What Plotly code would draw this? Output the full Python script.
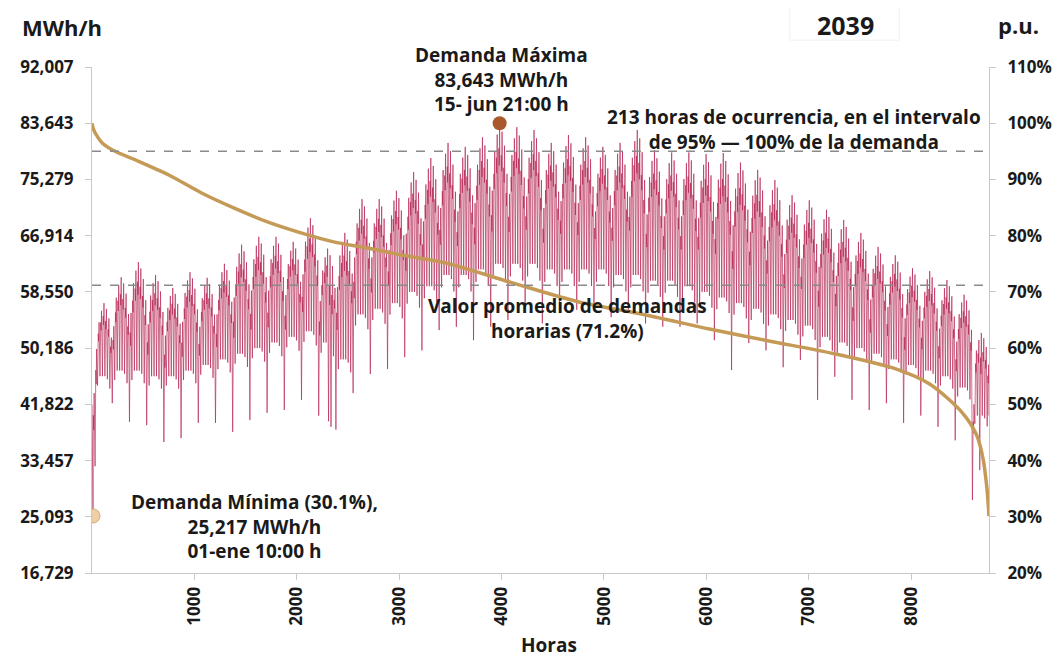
import plotly.graph_objects as go

# ---------------- data ----------------
PEAK_MWH = 83643  # 1.0 p.u.

# weekly values in % of peak (weeks start on Sunday 2 Jan; 52 weeks)
week_peak = [68, 72.6, 75.3, 73, 70.7, 73.5, 72.5, 75, 78.4, 79.8,
             79.8, 78.9, 83.1, 77.7, 80.5, 86.5, 86.5, 88, 91.3, 93.8,
             96.5, 95.8, 97.5, 100, 99.3, 98.8, 96.5, 97.9, 97.5, 95.8,
             96.5, 98.8, 95.2, 94.8, 94.8, 94.5, 94.7, 93, 91.7, 89.9,
             87.2, 86.3, 84.6, 82.8, 80.5, 78, 76.5, 74.2, 73.7, 72.1,
             69.5, 62.7]
week_trough = [55, 56, 56, 55, 55, 56, 57, 58, 59, 60,
               61, 62, 63, 61, 58, 66, 67, 68, 70, 71,
               73, 73, 74, 75, 75, 75, 74, 74, 74, 74,
               73, 73, 72, 72, 71, 70, 69, 68, 67, 66,
               65, 64, 62, 61, 60, 59, 58, 57, 56, 55,
               53, 48]
week_dip = [39, 50.2, 46.9, 46.3, 43.3, 44, 46.7, 46.7, 45.1, 47.2,
            48.5, 49, 50.8, 48, 45.5, 52, 55.4, 56.3, 58.4, 59.6,
            63.2, 63.8, 61.4, 63.8, 65, 67.4, 64.4, 66.8, 66.8, 68,
            65.5, 66.8, 64.4, 63.8, 63.8, 64.4, 61.4, 56.1, 60.9, 59.6,
            56.6, 57.9, 50.8, 54.9, 50.8, 49, 50.2, 46.7, 48, 46,
            43.6, 33]
# holidays (day of year -> value, %)
special_low = {0: 30.1, 96: 47.0, 97: 46.0, 361: 38.3}
special_high = {0: 52.0, 358: 50.0}
start_value = 50.0
end_value = 48.0
# day-of-week shape (Sunday..Saturday)
dow_peak = [0.88, 0.95, 0.98, 1.0, 0.985, 0.96, 0.91]
dow_trough = [1.0, 0.97, 1.0, 1.0, 1.0, 0.99, 0.96]
# intra-day shape: (hour, share of the trough->peak swing)
day_hours = [6, 13, 17, 21]
day_share = [0.0, 0.82, 0.70, 1.0]

# load-duration curve (hours, % of peak)
dur_hours = [0, 10, 30, 100, 225, 420, 750, 1070, 1390, 1720, 2040, 2360,
             2690, 3010, 3466, 4107, 4757, 5408, 6030, 6600, 7250, 7850,
             8180, 8500, 8640, 8700, 8740, 8760]
dur_pct = [100, 99.2, 98.3, 96.5, 95, 93.5, 90.8, 87.6, 84.9, 82.4, 80.5,
           78.9, 77.8, 76.6, 75.1, 71.6, 68.2, 65.9, 63.4, 61.3, 59.0,
           56.3, 53.6, 48.5, 44.5, 40.5, 35, 30.1]

max_point = (3981, 83643)
min_point = (10, 25217)
avg_pct = 71.2
band_pct = 95

pu_ticks = [0.2, 0.3, 0.4, 0.5, 0.6, 0.7, 0.8, 0.9, 1.0, 1.1]
left_ticktext = ["16,729", "25,093", "33,457", "41,822", "50,186",
                 "58,550", "66,914", "75,279", "83,643", "92,007"]
right_ticktext = ["20%", "30%", "40%", "50%", "60%", "70%", "80%", "90%",
                  "100%", "110%"]
x_ticks = [1000, 2000, 3000, 4000, 5000, 6000, 7000, 8000]

# ---------------- build the chronological series ----------------
hrs = [0]
vals = [start_value]
for d in range(365):
    s = (d - 1) % 7            # 0 = Sunday ... 6 = Saturday
    k = max(0, (d - 1) // 7)
    if d in special_low:
        lo = special_low[d]
    elif s == 0:
        lo = week_dip[k]
    else:
        lo = week_trough[k] * dow_trough[s]
    hi = special_high.get(d, week_peak[k] * dow_peak[s])
    for h, sh in zip(day_hours, day_share):
        if d == 0 and h == 6:
            h = 10
        hrs.append(24 * d + h)
        vals.append(lo + (hi - lo) * sh)
hrs.append(8759)
vals.append(end_value)
demand = [v / 100 * PEAK_MWH for v in vals]

FONT = "Open Sans"
DARK = "#1a1a1a"

fig = go.Figure()
fig.add_trace(go.Scatter(x=hrs, y=demand, mode="lines",
                         line=dict(color="rgba(180,36,82,0.66)", width=1),
                         hoverinfo="skip", showlegend=False))
fig.add_trace(go.Scatter(x=dur_hours, y=[p / 100 for p in dur_pct], yaxis="y2",
                         mode="lines",
                         line=dict(color="#C49A56", width=3.5, shape="spline",
                                   smoothing=0.8),
                         showlegend=False))
fig.add_trace(go.Scatter(x=[max_point[0]], y=[max_point[1]], mode="markers",
                         marker=dict(size=14, color="#A9592B"), showlegend=False))
fig.add_trace(go.Scatter(x=[min_point[0]], y=[min_point[1]], mode="markers",
                         marker=dict(size=14, color="#F0CFA6",
                                     line=dict(color="#D6A878", width=1)),
                         showlegend=False))

for p in (band_pct, avg_pct):
    fig.add_shape(type="line", xref="x", yref="y2", x0=0, x1=8760,
                  y0=p / 100, y1=p / 100,
                  line=dict(color="#8a8a8a", width=1.5, dash="dash"))

fig.add_shape(type="rect", xref="paper", yref="paper", x0=0.778, x1=0.9,
              y0=1.053, y1=1.145, line=dict(color="#f0f0f0", width=1),
              fillcolor="rgba(0,0,0,0)")

def ann(text, x, y, size=19, xanchor="center", align="center"):
    fig.add_annotation(text=text, x=x, y=y, xref="paper", yref="paper",
                       showarrow=False, xanchor=xanchor, yanchor="middle",
                       align=align,
                       font=dict(family=FONT, size=size, color=DARK, weight="bold"))

ann("Demanda Máxima<br>83,643 MWh/h<br>15- jun 21:00 h", 0.456, 0.976)
ann("213 horas de ocurrencia, en el intervalo<br>de 95% — 100% de la demanda",
    0.783, 0.877)
ann("Valor promedio de demandas<br>horarias (71.2%)", 0.53, 0.502)
ann("Demanda Mínima (30.1%),<br>25,217 MWh/h<br>01-ene 10:00 h", 0.181, 0.091)
ann("MWh/h", -0.034, 1.079, size=22)
ann("p.u.", 1.033, 1.083, size=22)
ann("2039", 0.84, 1.083, size=25)
ann("Horas", 0.509, -0.142, size=19)

tick_font = dict(family=FONT, size=17, color=DARK, weight="bold")
common = dict(ticks="outside", ticklen=6, tickcolor="#c8c8c8",
              showline=True, linecolor="#c8c8c8", linewidth=1,
              showgrid=False, zeroline=False, tickfont=tick_font)
# the page body adds an 8 px margin, so the figure is 8 px smaller each way
fig.update_layout(
    width=1056, height=650,
    margin=dict(l=82, r=74, t=59, b=85),
    plot_bgcolor="white", paper_bgcolor="white",
    xaxis=dict(range=[0, 8760], tickvals=x_ticks, tickangle=-90, **common),
    yaxis=dict(range=[0.2 * PEAK_MWH, 1.1 * PEAK_MWH],
               tickvals=[p * PEAK_MWH for p in pu_ticks], ticktext=left_ticktext,
               ticklabelstandoff=8, **common),
    yaxis2=dict(range=[0.2, 1.1], overlaying="y", side="right",
                tickvals=pu_ticks, ticktext=right_ticktext,
                ticklabelstandoff=8, **common),
)

fig.write_html("out.html")
